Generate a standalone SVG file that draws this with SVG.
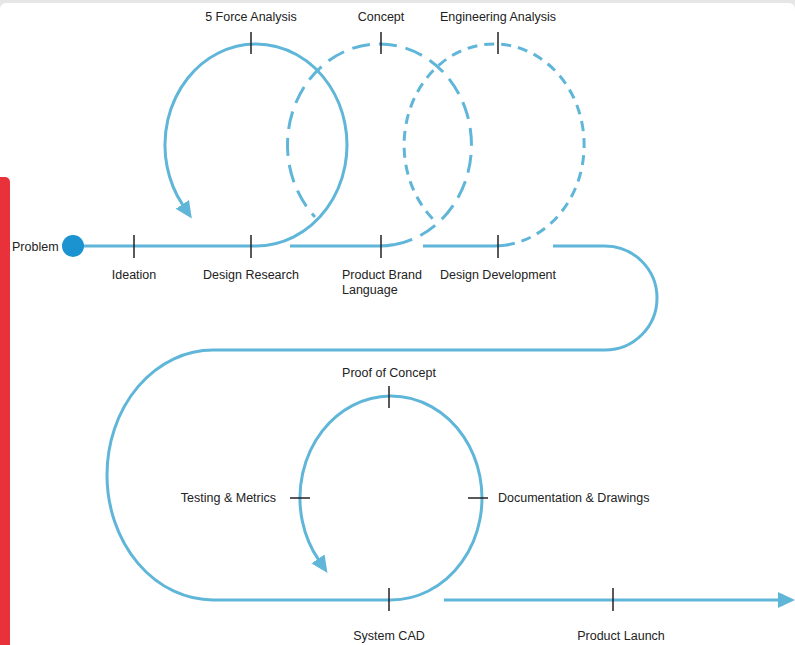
<svg xmlns="http://www.w3.org/2000/svg" width="795" height="645" viewBox="0 0 795 645">
<defs>
<style>
.lbl{font-family:"Liberation Sans",Arial,sans-serif;font-size:12.5px;fill:#222}
.mid{text-anchor:middle}
.end{text-anchor:end}
.flow{fill:none;stroke:#60b6d8;stroke-width:3}
.d1{stroke-dasharray:18 9}
.d2{stroke-dasharray:10 7}
.tick{stroke:#222;stroke-width:1.5}
</style>
<marker id="arr" markerUnits="userSpaceOnUse" viewBox="0 -8 17 16" refX="1" refY="0" markerWidth="17" markerHeight="16" orient="auto">
<path d="M0,-8 L17,0 L0,8 z" fill="#60b6d8"/>
</marker>
</defs>
<rect x="0" y="0" width="795" height="645" fill="#e6e6e6"/>
<rect x="0" y="3" width="795" height="660" rx="6" fill="#ffffff"/>
<rect x="-6" y="177" width="16" height="480" rx="5" fill="#e8313a"/>

<g id="connectors">
<path class="flow" d="M73,246 H256 A91,101 0 1 0 182.9,205.2" marker-end="url(#arr)"/>
<path class="flow" d="M290,246 H379 A92,101 0 0 0 395,244.5"/>
<path class="flow d1" d="M395,244.5 A92,101 0 1 0 315,217"/>
<path class="flow" d="M423,246 H494 A90,101 0 0 0 505,245.2"/>
<path class="flow d2" d="M505,245.2 A90,101 0 1 0 437,223"/>
<path class="flow" d="M553,246 H605 A52,52 0 0 1 605,350 H213 A106,125 0 0 0 213,600 H391 A91,102 0 1 0 318.5,559.7" marker-end="url(#arr)"/>
<path class="flow" d="M444,600 H779" marker-end="url(#arr)"/>
</g>

<g id="problem">
<circle cx="73" cy="246" r="11" fill="#1b93d1"/>
<text class="lbl" x="12" y="251">Problem</text>
</g>
<g id="ideation">
<line class="tick" x1="134" y1="235" x2="134" y2="258"/>
<text class="lbl mid" x="134" y="279">Ideation</text>
</g>
<g id="design-research">
<line class="tick" x1="251" y1="235" x2="251" y2="258"/>
<text class="lbl mid" x="251" y="279">Design Research</text>
</g>
<g id="five-force">
<line class="tick" x1="251" y1="32" x2="251" y2="54"/>
<text class="lbl mid" x="251" y="21">5 Force Analysis</text>
</g>
<g id="concept">
<line class="tick" x1="381" y1="32" x2="381" y2="54"/>
<text class="lbl mid" x="381" y="21">Concept</text>
</g>
<g id="engineering-analysis">
<line class="tick" x1="498" y1="32" x2="498" y2="54"/>
<text class="lbl mid" x="498" y="21">Engineering Analysis</text>
</g>
<g id="product-brand-language">
<line class="tick" x1="381" y1="235" x2="381" y2="258"/>
<text class="lbl" x="342" y="279">Product Brand</text>
<text class="lbl" x="342" y="294">Language</text>
</g>
<g id="design-development">
<line class="tick" x1="498" y1="235" x2="498" y2="258"/>
<text class="lbl mid" x="498" y="279">Design Development</text>
</g>
<g id="proof-of-concept">
<line class="tick" x1="389" y1="386" x2="389" y2="408"/>
<text class="lbl mid" x="389" y="377">Proof of Concept</text>
</g>
<g id="testing-metrics">
<line class="tick" x1="290" y1="498" x2="310" y2="498"/>
<text class="lbl end" x="276" y="502">Testing &amp; Metrics</text>
</g>
<g id="documentation-drawings">
<line class="tick" x1="468" y1="498" x2="488" y2="498"/>
<text class="lbl" x="498" y="502">Documentation &amp; Drawings</text>
</g>
<g id="system-cad">
<line class="tick" x1="389" y1="588" x2="389" y2="611"/>
<text class="lbl mid" x="389" y="640">System CAD</text>
</g>
<g id="product-launch">
<line class="tick" x1="613" y1="588" x2="613" y2="611"/>
<text class="lbl mid" x="621" y="640">Product Launch</text>
</g>
</svg>
